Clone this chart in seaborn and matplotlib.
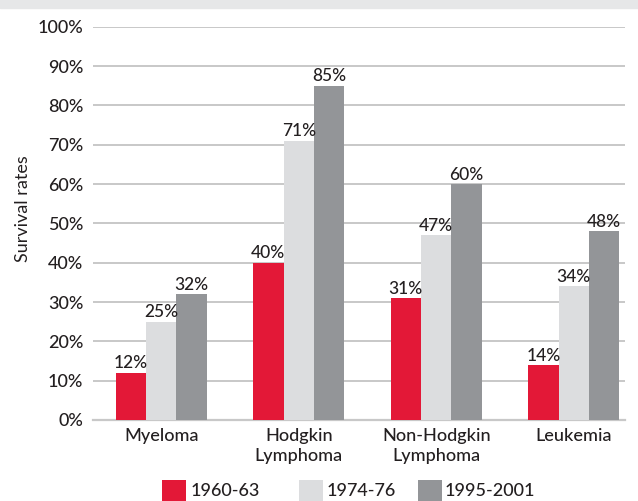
import matplotlib
matplotlib.use("Agg")
import matplotlib.pyplot as plt
import matplotlib.patches as mpatches
import seaborn as sns
import pandas as pd

# Survival rates by cancer type and diagnosis period
categories = ["Myeloma", "Hodgkin\nLymphoma", "Non-Hodgkin\nLymphoma", "Leukemia"]
periods = ["1960-63", "1974-76", "1995-2001"]
rates_1960_63 = [12, 40, 31, 14]
rates_1974_76 = [25, 71, 47, 34]
rates_1995_2001 = [32, 85, 60, 48]
y_ticks = [0, 10, 20, 30, 40, 50, 60, 70, 80, 90, 100]

colors = ["#e31837", "#dcdddf", "#939598"]
text_color = "#231f20"
grid_color = "#c8c8c8"
W, H = 638, 501

series = [rates_1960_63, rates_1974_76, rates_1995_2001]
df = pd.DataFrame(
    [(c, p, v) for p, vals in zip(periods, series) for c, v in zip(categories, vals)],
    columns=["category", "period", "rate"],
)

sns.set_theme(style="white")
plt.rcParams["font.family"] = ["Lato", "DejaVu Sans"]
plt.rcParams["font.weight"] = "medium"

fig = plt.figure(figsize=(W / 100, H / 100), dpi=100)
# light band across the top of the figure
fig.patches.append(mpatches.Rectangle((0, 1 - 8 / H), 1, 8 / H,
                                      transform=fig.transFigure,
                                      color="#e6e7e8", zorder=0))
ax = fig.add_axes([93 / W, 81 / H, (625 - 93) / W, (420 - 26.7) / H])

sns.barplot(data=df, x="category", y="rate", hue="period", hue_order=periods,
            palette=colors, width=0.662, gap=0, saturation=1,
            edgecolor="none", linewidth=0, legend=False, ax=ax, zorder=3)

for cont, vals in zip(ax.containers, series):
    ax.bar_label(cont, labels=[f"{v}%" for v in vals], padding=1,
                 fontsize=12.5, color=text_color)

ax.set_ylim(0, 100)
ax.set_xlim(-0.496, 3.373)
ax.set_yticks(y_ticks)
ax.set_yticklabels([f"{t}%" for t in y_ticks])
ax.yaxis.grid(True, color=grid_color, linewidth=1.4, zorder=0)
ax.set_axisbelow(True)
for s in ["left", "right", "top"]:
    ax.spines[s].set_visible(False)
ax.spines["bottom"].set_color(grid_color)
ax.spines["bottom"].set_linewidth(1.6)
ax.tick_params(axis="both", length=0, labelsize=13, colors=text_color)
ax.tick_params(axis="y", pad=7)
ax.tick_params(axis="x", pad=6)
for lbl in ax.get_xticklabels():
    lbl.set_linespacing(1.3)
ax.set_xlabel("")
ax.set_ylabel("Survival rates", fontsize=13, color=text_color)
ax.yaxis.set_label_coords((31 - 93) / 532, (420 - 208.5) / 393.3)

# legend entries laid out along the bottom edge
legend_items = [(162, 191), (299, 327), (418, 445)]
for (px, tx), color, label in zip(legend_items, colors, periods):
    fig.patches.append(mpatches.Rectangle((px / W, 1 - 501 / H), 23.5 / W, 21 / H,
                                          transform=fig.transFigure,
                                          facecolor=color, edgecolor="none"))
    fig.text(tx / W, 1 - 490.5 / H, label, fontsize=13, color=text_color,
             ha="left", va="center")

fig.savefig("out.png", dpi=100)
